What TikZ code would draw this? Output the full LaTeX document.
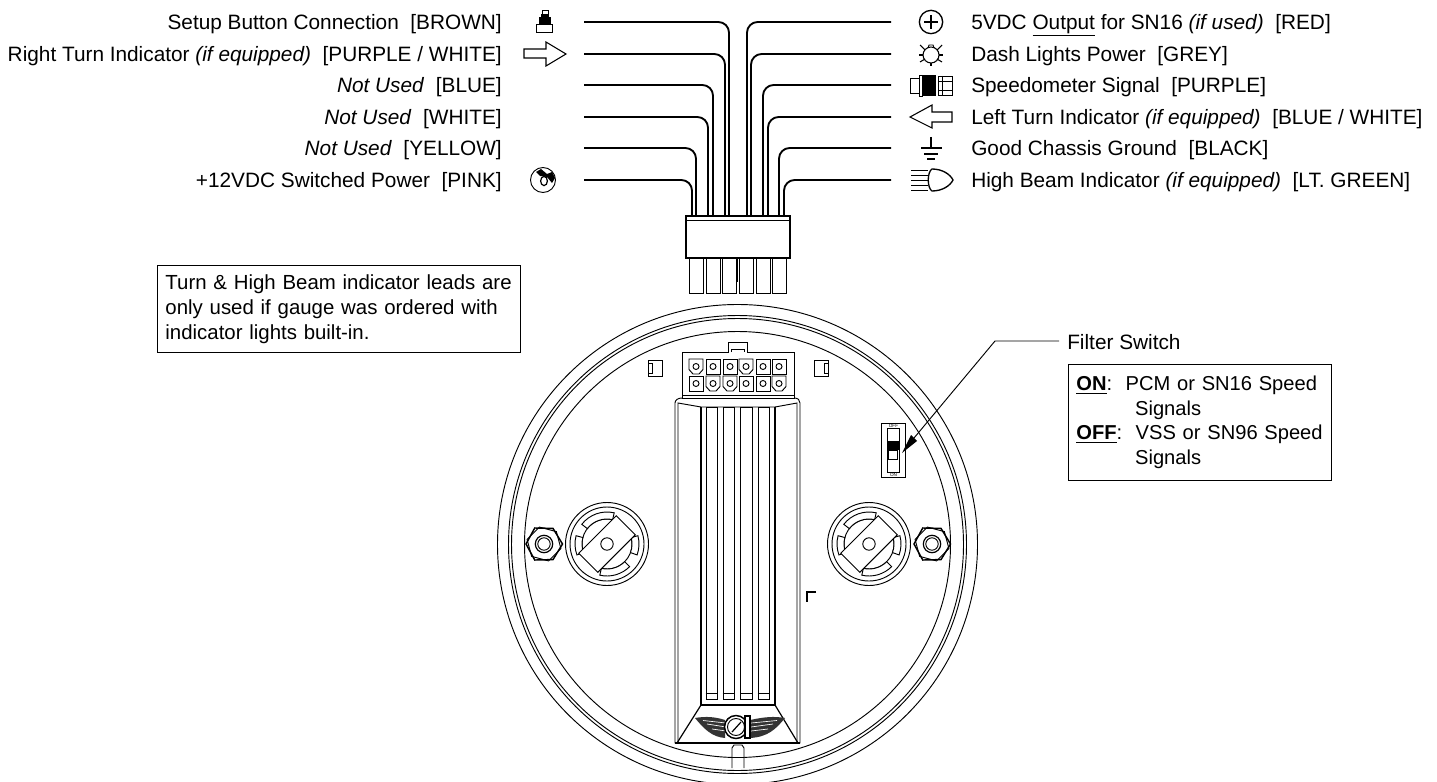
\documentclass[tikz,border=0pt]{standalone}
\usepackage{fontspec}
\setmainfont{Liberation Sans}
\usetikzlibrary{arrows.meta}
\tikzset{
  lbl/.style={font=\fontsize{15.6}{18}\selectfont,inner sep=0pt,yshift=-5.6pt},
  wire/.style={line width=1.4pt,rounded corners=8pt},
  thinline/.style={line width=0.7pt},
  boxnote/.style={draw,line width=0.7pt,fill=white,align=left,inner sep=0pt,anchor=north west},
  pincell/.style={draw,thinline,fill=white,minimum width=10.5pt,minimum height=11.2pt,inner sep=0pt},
  plugpin/.style={draw,thinline,fill=white,minimum width=10.5pt,minimum height=26pt,inner sep=0pt,anchor=north},
  slotbox/.style={draw,line width=0.9pt,fill=white,minimum width=8.6pt,minimum height=219pt,inner sep=0pt,anchor=north},
  pinchamfer/.pic={
    \draw[thinline,fill=white] (-7,-7.5) -- (7,-7.5) -- (7,3) -- (3,7.5) -- (-3,7.5) -- (-7,3) -- cycle;
    \draw[thinline] (0,0) circle (3);
  },
  mountdisc/.pic={
    \begin{scope}[yscale=-1]
    \draw[thinline] (0,0) circle (41.5);
    \draw[thinline] (0,0) circle (37);
    \draw[thinline] (0,0) circle (25);
    \draw[thinline,fill=white] (77:25) -- (77:32) arc[start angle=77,end angle=142,radius=32] -- (142:25) arc[start angle=142,end angle=77,radius=25] -- cycle;
    \draw[thinline,fill=white] (165:25) -- (165:32) arc[start angle=165,end angle=200,radius=32] -- (200:25) arc[start angle=200,end angle=165,radius=25] -- cycle;
    \draw[thinline,fill=white] (257:25) -- (257:32) arc[start angle=257,end angle=315,radius=32] -- (315:25) arc[start angle=315,end angle=257,radius=25] -- cycle;
    \draw[thinline,fill=white] (-20:25) -- (-20:32) arc[start angle=-20,end angle=15,radius=32] -- (15:25) arc[start angle=15,end angle=-20,radius=25] -- cycle;
    \draw[thinline,fill=white,rotate=45] (-13.5,-26.5) rectangle (13.5,26.5);
    \draw[thinline] (0,0) circle (6.2);
    \end{scope}
  },
  mountstud/.pic={
    \draw[line width=1.1pt] (0:18.5) -- (60:18) -- (120:18.5) -- (180:18) -- (240:18.5) -- (300:18) -- cycle;
    \draw[thinline] (15:17.5) -- (75:17.5) -- (135:17.5) -- (195:17.5) -- (255:17.5) -- (315:17.5) -- cycle;
    \draw[line width=0.9pt] (0,0) circle (8.7);
    \draw[thinline] (0,0) circle (6.2);
  },
}
\begin{document}
\begin{tikzpicture}[x=0.75pt,y=-0.75pt]
        \clip (0,0) rectangle (1437,781);

        % gauge body
        \node[inner sep=0pt,minimum size=0pt] (center) at (737.5,544.5) {};
        \draw[thinline] (center) circle (240);
        \draw[thinline] (center) circle (229);
        \draw[thinline] (center) circle (226);
        \draw[thinline] (center) circle (213);

        \draw[thinline,fill=white] (675,743) -- (675,403) .. controls (675,400) and (678,398) .. (682,398) -- (794,398) .. controls (798,398) and (800,400) .. (800,403) -- (800,743) -- cycle;
        \draw[thinline] (678,743) -- (678,403) -- (701,407) -- (775,407) -- (797,403) -- (797,743);
        \draw[line width=1.1pt] (675,743) -- (800,743);
        \draw[line width=0.9pt] (701,407) -- (701,705) -- (775,705) -- (775,407);
        \draw[line width=0.9pt] (701,705) -- (677,743);
        \draw[line width=0.9pt] (775,705) -- (798,743);

        \node[slotbox] (slotA) at (712,407) {};
        \node[slotbox] (slotB) at (729,407) {};
        \node[slotbox] (slotC) at (746.5,407) {};
        \node[slotbox] (slotD) at (764,407) {};
        \draw[thinline] (slotA.south west) ++(0,-7) -- ++(11.5,0);
        \draw[thinline] (slotB.south west) ++(0,-7) -- ++(11.5,0);
        \draw[thinline] (slotC.south west) ++(0,-7) -- ++(11.5,0);
        \draw[thinline] (slotD.south west) ++(0,-7) -- ++(11.5,0);

        \draw[thinline,fill=white] (732,768) -- (732,748) -- (734,745) -- (742,745) -- (744,748) -- (744,768);
        \draw[thinline] (732,757) -- (744,757);

        % back connector
        \draw[thinline,fill=white] (682,398) -- (682,352) -- (728,352) -- (728,342) -- (747,342) -- (747,352) -- (794,352) -- (794,398) -- cycle;
        \draw[thinline] (731,352) -- (731,349) -- (744,349) -- (744,352);
        \draw[thinline] (682,395) -- (794,395);
        \pic at (696,366.5) {pinchamfer};
        \node[pincell] (pinAb) at (713,366.5) {};
        \node[pincell] (pinAc) at (730,366.5) {};
        \pic at (746,366.5) {pinchamfer};
        \node[pincell] (pinAe) at (763,366.5) {};
        \node[pincell] (pinAf) at (779,366.5) {};
        \node[pincell] (pinBa) at (696,383.5) {};
        \pic at (713,383.5) {pinchamfer};
        \pic at (730,383.5) {pinchamfer};
        \node[pincell] (pinBd) at (746,383.5) {};
        \node[pincell] (pinBe) at (763,383.5) {};
        \pic at (779,383.5) {pinchamfer};
        \draw[thinline] (pinAb) circle (3);
        \draw[thinline] (pinAc) circle (3);
        \draw[thinline] (pinAe) circle (3);
        \draw[thinline] (pinAf) circle (3);
        \draw[thinline] (pinBa) circle (3);
        \draw[thinline] (pinBd) circle (3);
        \draw[thinline] (pinBe) circle (3);

        \node[draw,thinline,minimum width=10.5pt,minimum height=12pt,inner sep=0pt] (lugL) at (655,368) {};
        \node[draw,thinline,minimum width=10.5pt,minimum height=12pt,inner sep=0pt] (lugR) at (821,368) {};
        \draw[thinline] (648,363) rectangle (652,373);
        \draw[thinline] (824,363) rectangle (828,373);
        \draw[line width=1pt] (816,592) -- (807,592) -- (807,602);

        \pic at (607,544) {mountdisc};
        \pic at (869,544) {mountdisc};
        \pic at (544,544) {mountstud};
        \pic at (932,544) {mountstud};

        % filter switch
        \node[draw,thinline,minimum width=18.5pt,minimum height=41pt,inner sep=0pt] (switchbox) at (893.5,450.5) {};
        \node[draw,thinline,minimum width=9pt,minimum height=32.5pt,inner sep=0pt] (switchbody) at (893,450.5) {};
        \fill (887,441) rectangle (899,450);
        \draw[thinline] (888.5,450) rectangle (897.5,459.5);
        \node[font=\fontsize{3.5}{4}\selectfont,inner sep=0pt] (switchoff) at (893.5,426) {OFF};
        \node[font=\fontsize{3.5}{4}\selectfont,inner sep=0pt] (switchon) at (893.5,475) {ON};
        \coordinate (leadA) at (1059,341);
        \coordinate (leadB) at (995,341);
        \coordinate (leadC) at (914,438);
        \node[lbl,anchor=base west] (filter) at (1067,342) {Filter Switch};
        \draw[thinline] (leadA) -- (leadB) -- (leadC);
        \fill (902,453) -- (911,435) -- (917,441) -- cycle;

        % logo
        \fill[black!80] (695,718) .. controls (706,716) and (716,717) .. (725,720) -- (725,738) .. controls (712,737) and (704,729) .. (695,718) -- cycle;
        \fill[black!80] (785,718) .. controls (774,716) and (764,717) .. (750,720) -- (750,738) .. controls (768,737) and (776,729) .. (785,718) -- cycle;
        \draw[white,line width=0.5pt] (703,720.5) -- (726,723);
        \draw[white,line width=0.5pt] (707,724) -- (726,727);
        \draw[white,line width=0.5pt] (712,729) -- (726,731);
        \draw[white,line width=0.5pt] (777,720.5) -- (751,723);
        \draw[white,line width=0.5pt] (773,724) -- (751,727);
        \draw[white,line width=0.5pt] (768,729) -- (751,731);
        \draw[line width=1.1pt,fill=white] (736,727) circle (11.5);
        \draw[thinline] (736,727) circle (8.5);
        \draw[line width=1.1pt,fill=white] (745,716) rectangle (750,738);
        \draw[line width=0.9pt] (732,732) -- (741,722);

        % harness plug
        \node[plugpin] (plugA) at (696,258) {};
        \node[plugpin] (plugB) at (713,258) {};
        \node[plugpin] (plugC) at (729.6,258) {};
        \node[plugpin] (plugD) at (746,258) {};
        \node[plugpin] (plugE) at (763,258) {};
        \node[plugpin] (plugF) at (779,258) {};
        \draw[thinline] (737.5,258) -- (737.5,282);
        \node[draw,line width=0.9pt,fill=white,minimum width=78pt,minimum height=31.5pt,inner sep=0pt] (plug) at (738,237) {};
        \draw[thinline] (686,220) -- (790,220);

        % leads
        \coordinate (leftA) at (584,22);
        \coordinate (leftB) at (584,54);
        \coordinate (leftC) at (584,85);
        \coordinate (leftD) at (584,117);
        \coordinate (leftE) at (584,148);
        \coordinate (leftF) at (584,180);
        \coordinate (rightA) at (891,22);
        \coordinate (rightB) at (891,54);
        \coordinate (rightC) at (891,85);
        \coordinate (rightD) at (891,117);
        \coordinate (rightE) at (891,148);
        \coordinate (rightF) at (891,180);
        \coordinate (entryA) at (729,216);
        \coordinate (entryB) at (725,216);
        \coordinate (entryC) at (713,216);
        \coordinate (entryD) at (708,216);
        \coordinate (entryE) at (696,216);
        \coordinate (entryF) at (692,216);
        \coordinate (entryG) at (747,216);
        \coordinate (entryH) at (751,216);
        \coordinate (entryI) at (763,216);
        \coordinate (entryJ) at (768,216);
        \coordinate (entryK) at (779,216);
        \coordinate (entryL) at (784,216);

        \draw[wire] (leftA) -| (entryA);
        \draw[wire] (leftB) -| (entryB);
        \draw[wire] (leftC) -| (entryC);
        \draw[wire] (leftD) -| (entryD);
        \draw[wire] (leftE) -| (entryE);
        \draw[wire] (leftF) -| (entryF);
        \draw[wire] (rightA) -| (entryG);
        \draw[wire] (rightB) -| (entryH);
        \draw[wire] (rightC) -| (entryI);
        \draw[wire] (rightD) -| (entryJ);
        \draw[wire] (rightE) -| (entryK);
        \draw[wire] (rightF) -| (entryL);

        % labels
        \node[lbl,anchor=base east] (setup) at (502,22) {Setup Button Connection\ \ [BROWN]};
        \node[lbl,anchor=base east] (rightturn) at (502,54) {Right Turn Indicator \textit{(if equipped)}\ \ [PURPLE / WHITE]};
        \node[lbl,anchor=base east] (unusedA) at (502,85) {\textit{Not Used}\ \ [BLUE]};
        \node[lbl,anchor=base east] (unusedB) at (502,117) {\textit{Not Used}\ \ [WHITE]};
        \node[lbl,anchor=base east] (unusedC) at (502,148) {\textit{Not Used}\ \ [YELLOW]};
        \node[lbl,anchor=base east] (switched) at (502,180) {+12VDC Switched Power\ \ [PINK]};
        \node[lbl,anchor=base west] (fivevolt) at (971,22) {5VDC \underline{Output} for SN16 \textit{(if used)}\ \ [RED]};
        \node[lbl,anchor=base west] (dash) at (971,54) {Dash Lights Power\ \ [GREY]};
        \node[lbl,anchor=base west] (speedo) at (971,85) {Speedometer Signal\ \ [PURPLE]};
        \node[lbl,anchor=base west] (leftturn) at (971,117) {Left Turn Indicator \textit{(if equipped)}\ \ [BLUE / WHITE]};
        \node[lbl,anchor=base west] (ground) at (971,148) {Good Chassis Ground\ \ [BLACK]};
        \node[lbl,anchor=base west] (highbeam) at (971,180) {High Beam Indicator \textit{(if equipped)}\ \ [LT. GREEN]};

        % icons on the left
        \draw[thinline] (536,24) rectangle (552,32);
        \fill (539,17) rectangle (551,24);
        \draw[thinline,fill=white] (542,10) rectangle (548,14);
        \fill (541,14) rectangle (549,17);
        \draw[line width=0.8pt] (524,49) -- (546,49) -- (546,42) -- (566,54) -- (546,66) -- (546,58) -- (524,58) -- cycle;
        \draw[line width=0.7pt] (543,180) circle (12.5);
        \draw[line width=0.9pt] (544,181) ellipse (3.4 and 4.6);
        \fill (536,172) -- (541,169) -- (547,174) -- (552,172) -- (555,178) -- (552,183) -- (547,177) -- (540,176) -- cycle;

        % icons on the right
        \node[draw,circle,line width=1pt,minimum size=17.5pt,inner sep=0pt] (plusmark) at (931,22) {};
        \draw[line width=1pt] (924,22) -- (938,22);
        \draw[line width=1pt] (931,15) -- (931,29);
        \node[draw,circle,line width=0.8pt,minimum size=12pt,inner sep=0pt] (lamp) at (931,55) {};
        \draw[thinline] (928,48) -- (929,45) -- (933,45) -- (934,48);
        \draw[line width=0.8pt] (919,55) -- (923,55);
        \draw[line width=0.8pt] (939,55) -- (943,55);
        \draw[line width=0.8pt] (920,45) -- (925,50);
        \draw[line width=0.8pt] (942,45) -- (937,50);
        \draw[line width=0.8pt] (920,62) -- (925,59);
        \draw[line width=0.8pt] (942,62) -- (937,59);
        \draw[line width=0.8pt] (931,63) -- (931,66);
        \draw[thinline] (910,78) rectangle (919,93);
        \draw[thinline] (919,75) rectangle (922,96);
        \fill (922,75) rectangle (936,96);
        \draw[thinline] (938,76) rectangle (952,95);
        \draw[thinline] (938,81) -- (952,81);
        \draw[thinline] (938,90) -- (952,90);
        \draw[thinline] (942,76) -- (942,95);
        \draw[line width=0.8pt] (910,117) -- (932,105) -- (932,112) -- (952,112) -- (952,122) -- (932,122) -- (932,128) -- cycle;
        \draw[line width=0.8pt] (931,137) -- (931,148);
        \draw[line width=0.8pt] (921,148) -- (942,148);
        \draw[line width=0.8pt] (924,154) -- (938,154);
        \draw[line width=0.8pt] (927,159) -- (935,159);
        \draw[thinline] (911,170) -- (928,170);
        \draw[thinline] (911,175) -- (928,175);
        \draw[thinline] (911,180) -- (928,180);
        \draw[thinline] (911,185) -- (928,185);
        \draw[thinline] (911,190) -- (928,190);
        \draw[line width=1pt] (932,169) .. controls (942,169) and (950,174) .. (953,180) .. controls (950,186) and (942,191) .. (932,191) .. controls (927,188) and (927,172) .. (932,169) -- cycle;

        % notes
        \node[boxnote,minimum height=65pt,text width=260pt,font=\fontsize{15.3}{18.7}\selectfont,inner xsep=6pt] (note) at (157,265) {Turn \& High Beam indicator leads are\\only used if gauge was ordered with\\indicator lights built-in.};
        \node[boxnote,minimum height=87pt,text width=185pt,font=\fontsize{15.1}{18.4}\selectfont,inner xsep=6pt] (filterinfo) at (1068,364) {\underline{\textbf{ON}}:\ \ PCM or SN16 Speed\\\hspace*{44pt}Signals\\\underline{\textbf{OFF}}:\ \ VSS or SN96 Speed\\\hspace*{44pt}Signals};
    \end{tikzpicture}
\end{document}
